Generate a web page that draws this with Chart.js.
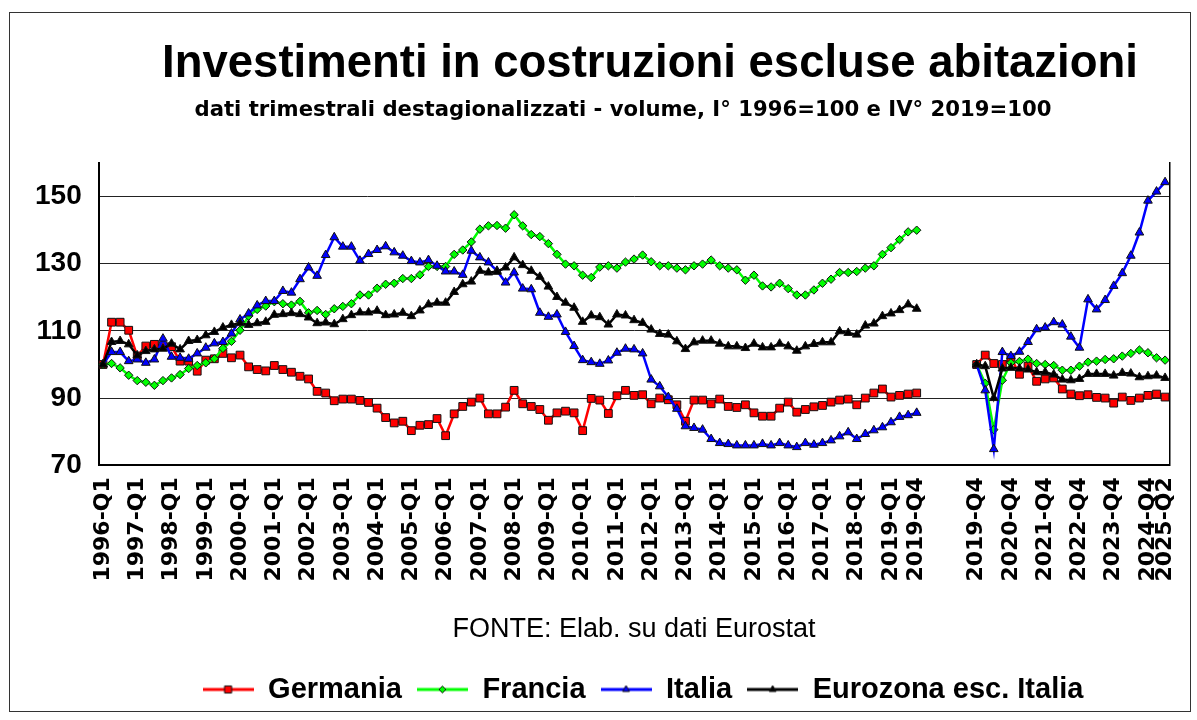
<!DOCTYPE html>
<html>
<head>
<meta charset="utf-8">
<title>Investimenti in costruzioni escluse abitazioni</title>
<script src="https://cdn.jsdelivr.net/npm/chart.js@4.4.0/dist/chart.umd.min.js"></script>
<style>
  html, body { margin: 0; padding: 0; background: #fff; overflow: hidden; }
  canvas { display: block; }
</style>
</head>
<body>
<canvas id="chart" width="1197" height="720"></canvas>
<script>
// Quarters of the first block (I° 1996 = 100)
const quarters1 = [
  '1996-Q1','1996-Q2','1996-Q3','1996-Q4','1997-Q1','1997-Q2','1997-Q3','1997-Q4',
  '1998-Q1','1998-Q2','1998-Q3','1998-Q4','1999-Q1','1999-Q2','1999-Q3','1999-Q4',
  '2000-Q1','2000-Q2','2000-Q3','2000-Q4','2001-Q1','2001-Q2','2001-Q3','2001-Q4',
  '2002-Q1','2002-Q2','2002-Q3','2002-Q4','2003-Q1','2003-Q2','2003-Q3','2003-Q4',
  '2004-Q1','2004-Q2','2004-Q3','2004-Q4','2005-Q1','2005-Q2','2005-Q3','2005-Q4',
  '2006-Q1','2006-Q2','2006-Q3','2006-Q4','2007-Q1','2007-Q2','2007-Q3','2007-Q4',
  '2008-Q1','2008-Q2','2008-Q3','2008-Q4','2009-Q1','2009-Q2','2009-Q3','2009-Q4',
  '2010-Q1','2010-Q2','2010-Q3','2010-Q4','2011-Q1','2011-Q2','2011-Q3','2011-Q4',
  '2012-Q1','2012-Q2','2012-Q3','2012-Q4','2013-Q1','2013-Q2','2013-Q3','2013-Q4',
  '2014-Q1','2014-Q2','2014-Q3','2014-Q4','2015-Q1','2015-Q2','2015-Q3','2015-Q4',
  '2016-Q1','2016-Q2','2016-Q3','2016-Q4','2017-Q1','2017-Q2','2017-Q3','2017-Q4',
  '2018-Q1','2018-Q2','2018-Q3','2018-Q4','2019-Q1','2019-Q2','2019-Q3','2019-Q4'
];
// Quarters of the second block (IV° 2019 = 100)
const quarters2 = [
  '2019-Q4','2020-Q1','2020-Q2','2020-Q3','2020-Q4','2021-Q1','2021-Q2','2021-Q3',
  '2021-Q4','2022-Q1','2022-Q2','2022-Q3','2022-Q4','2023-Q1','2023-Q2','2023-Q3',
  '2023-Q4','2024-Q1','2024-Q2','2024-Q3','2024-Q4','2025-Q1','2025-Q2'
];
// empty slots between the two blocks
const gapSlots = 6;

const germania1 = [
  100, 112.6, 112.6, 110.2, 102.5, 105.5, 106, 105.5, 105.3, 101,
  101, 98, 101.3, 101.7, 103.3, 102, 102.8, 99.3, 98.5, 98.1,
  99.7, 98.5, 97.7, 96.5, 95.7, 92, 91.5, 89.2, 89.7, 89.7,
  89.3, 88.7, 87, 84.2, 82.6, 83.1, 80.3, 81.9, 82.1, 83.9,
  78.8, 85.3, 87.5, 88.8, 90, 85.3, 85.3, 87.3, 92.3, 88.3,
  87.5, 86.6, 83.4, 85.6, 86.1, 85.6, 80.3, 89.9, 89.4, 85.4,
  90.7, 92.3, 90.8, 91, 88.3, 90, 89.5, 88, 83.1, 89.4,
  89.4, 88.3, 89.7, 87.5, 87.2, 88, 85.6, 84.6, 84.6, 87,
  88.8, 85.8, 86.6, 87.4, 87.8, 88.8, 89.4, 89.7, 88, 90,
  91.5, 92.7, 90.3, 90.8, 91.2, 91.5
];
const francia1 = [
  100, 100.3, 99, 96.8, 95.2, 94.7, 93.8, 95.2, 96, 97,
  98.8, 99.7, 100.5, 101.7, 104.8, 106.9, 110.2, 114.4, 116.4, 117.4,
  118.7, 118.1, 117.7, 118.8, 115.4, 116.1, 114.9, 116.6, 117.3, 118.1,
  120.7, 120.7, 122.7, 123.9, 124.2, 125.6, 125.6, 126.7, 129.2, 129.2,
  129.2, 132.8, 134.1, 136.5, 140.3, 141.3, 141.4, 140.6, 144.6, 141.3,
  138.7, 138.1, 136, 132.8, 129.9, 129.4, 126.6, 125.9, 129, 129.4,
  128.7, 130.5, 131.4, 132.6, 130.6, 129.4, 129.4, 128.7, 128.2, 129.4,
  129.9, 131.1, 129.4, 128.7, 128.2, 125.1, 126.6, 123.4, 123.1, 124.2,
  122.6, 120.7, 120.7, 122.2, 124.2, 125.4, 127.4, 127.4, 127.7, 128.7,
  129.4, 132.8, 134.8, 137.2, 139.5, 140
];
const italia1 = [
  100, 103.7, 103.7, 101, 101.5, 100.5, 101.5, 107.7, 102.3, 102,
  101.7, 103.3, 105, 106.3, 106.7, 109.2, 113.4, 115.2, 117.6, 118.9,
  118.9, 121.9, 121.4, 125.4, 128.9, 126.4, 132.6, 137.9, 135.1, 135.1,
  130.9, 132.9, 134.1, 135.2, 133.4, 132.4, 130.8, 130.4, 131.1, 129.4,
  127.7, 127.7, 126.7, 133.9, 131.9, 130.4, 127.9, 124.4, 127.4, 122.6,
  122.4, 115.4, 114.2, 114.9, 109.7, 105.5, 101.3, 100.7, 100.2, 101.2,
  103.5, 104.7, 104.5, 103.3, 95.5, 93.5, 90.3, 86.8, 81.6, 81.1,
  80.6, 77.8, 76.6, 76.3, 75.9, 75.9, 75.9, 76.3, 75.9, 76.6,
  75.9, 75.4, 76.6, 76.1, 76.6, 77.4, 78.6, 79.8, 77.8, 79.3,
  80.4, 81.3, 82.8, 84.4, 84.9, 85.6
];
const eurozona1 = [
  100, 106.7, 107, 106, 102.7, 104, 104.5, 104.7, 106.2, 104.5,
  107, 107.3, 108.7, 109.7, 111, 111.8, 112.3, 111.8, 112.3, 112.7,
  114.8, 115, 115.3, 115, 114, 112.3, 112.5, 112, 113.5, 114.7,
  115.5, 115.5, 116, 114.7, 114.9, 115.4, 114.4, 116.1, 117.9, 118.4,
  118.4, 121.6, 123.9, 124.7, 127.9, 127.4, 127.6, 128.9, 131.9, 129.6,
  127.9, 126.1, 123.2, 120.1, 118.4, 116.9, 112.7, 114.6, 114.1, 111.9,
  114.9, 114.6, 113.2, 112.4, 110.4, 109.1, 108.9, 106.9, 104.6, 106.6,
  107.1, 107.1, 106.2, 105.4, 105.4, 104.9, 106.2, 105.1, 105.1, 106.2,
  105.4, 104.1, 105.4, 106.1, 106.6, 106.6, 109.9, 109.4, 108.9, 111.6,
  112.2, 114.4, 115.2, 116.2, 117.9, 116.6
];

const germania2 = [100, 102.8, 100.3, 100, 102, 97.1, 99.5, 95, 95.7, 96, 92.7, 91.2, 90.7, 91, 90.2, 90, 88.5, 90.3, 89.3, 90, 90.8, 91.2, 90.3];
const francia2 = [100, 94.4, 80.6, 95.3, 100.5, 100.9, 101.6, 100.3, 100, 99.7, 98.3, 98.3, 99.5, 100.7, 101, 101.5, 101.7, 102.5, 103.3, 104.3, 103.5, 102, 101.3];
const italia2 = [100, 92.3, 74.8, 103.7, 102.5, 103.8, 106.7, 110.5, 111, 112.6, 111.9, 108.3, 105, 119.4, 116.4, 119.2, 123.4, 127.2, 132.4, 139.3, 148.8, 151.5, 154.3];
const eurozona2 = [100, 99.5, 90, 98.8, 99, 98.8, 98.5, 97.7, 97.7, 97, 95.5, 95.3, 95.7, 97.2, 97.2, 97.2, 96.7, 97.5, 97.3, 96.2, 96.5, 96.7, 96];

const seriesNames = ['Germania', 'Francia', 'Italia', 'Eurozona esc. Italia'];
const yLabels = [70, 90, 110, 130, 150];

const titleText = 'Investimenti in costruzioni escluse abitazioni';
const subtitleText = 'dati trimestrali destagionalizzati - volume, I° 1996=100 e IV° 2019=100';

const gap = new Array(gapSlots).fill(null);
const labels = [...quarters1, ...new Array(gapSlots).fill(''), ...quarters2];
const join = (a, b) => [...a, ...gap, ...b];

// small line + marker icon for the legend
function legendIcon(color, style, radius) {
  const c = document.createElement('canvas');
  c.width = 51;
  c.height = 14;
  const g = c.getContext('2d');
  g.strokeStyle = color;
  g.lineWidth = 3;
  g.beginPath();
  g.moveTo(0, 7);
  g.lineTo(51, 7);
  g.stroke();
  g.fillStyle = color;
  g.strokeStyle = '#111';
  g.lineWidth = 1;
  Chart.helpers.drawPoint(g, { pointStyle: style, radius: radius, borderWidth: 1 }, 25.5, 7);
  return c;
}

const styles = [
  { color: '#ff0000', point: 'rect', radius: 5.5, icon: 5 },
  { color: '#00ff00', point: 'rectRot', radius: 4.2, icon: 3.5 },
  { color: '#0000ff', point: 'triangle', radius: 5, icon: 4 },
  { color: '#000000', point: 'triangle', radius: 5, icon: 4 }
];
const legendIcons = styles.map(s => legendIcon(s.color, s.point, s.icon));

const seriesData = [
  join(germania1, germania2),
  join(francia1, francia2),
  join(italia1, italia2),
  join(eurozona1, eurozona2)
];

const datasets = seriesNames.map((name, i) => ({
  label: name,
  data: seriesData[i],
  borderColor: styles[i].color,
  backgroundColor: styles[i].color,
  borderWidth: 2.5,
  pointStyle: styles[i].point,
  pointRadius: styles[i].radius,
  pointBackgroundColor: styles[i].color,
  pointBorderColor: '#111',
  pointBorderWidth: 1,
  spanGaps: false,
  tension: 0,
  order: 4 - i
}));

// page frame + moving the centred boxes over the plot like the original
const framePlugin = {
  id: 'frame',
  beforeDraw(chart) {
    const ctx = chart.ctx;
    ctx.save();
    ctx.fillStyle = '#fff';
    ctx.fillRect(0, 0, chart.width, chart.height);
    ctx.strokeStyle = '#333';
    ctx.lineWidth = 1;
    ctx.strokeRect(9.5, 12.5, 1181, 699);
    ctx.restore();
  },
  afterLayout(chart) {
    const move = (box, dx) => { if (box) { box.left += dx; box.right += dx; } };
    move(chart.titleBlock, 56);
    const sub = chart.boxes.find(b => b !== chart.titleBlock && b.options && b.options.text === subtitleText);
    move(sub, 29);
    move(chart.legend, 49);
  }
};

const n1 = quarters1.length;
const n2 = quarters2.length;

new Chart(document.getElementById('chart'), {
  type: 'line',
  data: { labels: labels, datasets: datasets },
  plugins: [framePlugin],
  options: {
    responsive: false,
    animation: false,
    layout: { padding: { top: 33, left: 18, right: 27, bottom: 6 } },
    plugins: {
      tooltip: { enabled: false },
      title: {
        display: true,
        text: titleText,
        color: '#000',
        font: { family: "'Liberation Sans', Arial, sans-serif", weight: 'bold', size: 45.5 },
        padding: { top: 4, bottom: 0 }
      },
      subtitle: {
        display: true,
        text: subtitleText,
        color: '#000',
        font: { family: "'DejaVu Sans', sans-serif", weight: 'bold', size: 21.2 },
        padding: { top: 6, bottom: 40 }
      },
      legend: {
        position: 'bottom',
        labels: {
          color: '#000',
          font: { family: "'Liberation Sans', Arial, sans-serif", weight: 'bold', size: 29 },
          usePointStyle: true,
          pointStyleWidth: 51,
          padding: 15,
          generateLabels(chart) {
            return chart.data.datasets.map((ds, i) => ({
              text: ds.label,
              pointStyle: legendIcons[i],
              fontColor: '#000',
              fillStyle: styles[i].color,
              strokeStyle: styles[i].color,
              lineWidth: 0,
              datasetIndex: i
            }));
          }
        }
      }
    },
    scales: {
      x: {
        offset: true,
        grid: { display: false, drawTicks: false },
        border: { display: true, color: '#000', width: 2 },
        ticks: {
          autoSkip: false,
          minRotation: 90,
          maxRotation: 90,
          padding: 12,
          color: '#000',
          font: { family: "'DejaVu Sans', sans-serif", weight: 'bold', size: 22, lineHeight: 0.9 },
          callback: function (value, index) {
            if (index < n1) {
              return (index % 4 === 0 || index === n1 - 1) ? this.getLabelForValue(value) : '';
            }
            const j = index - n1 - gapSlots;
            if (j >= 0 && (j % 4 === 0 || j === n2 - 1)) return this.getLabelForValue(value);
            return '';
          }
        },
        title: {
          display: true,
          text: 'FONTE: Elab. su dati Eurostat',
          color: '#000',
          font: { family: "'Liberation Sans', Arial, sans-serif", size: 27 },
          padding: { top: 20, bottom: 14 }
        }
      },
      y: {
        min: 70,
        max: 160,
        grid: { color: '#222', lineWidth: 1, drawTicks: false },
        border: { color: '#000', width: 2 },
        ticks: {
          stepSize: 10,
          padding: 17,
          color: '#000',
          font: { family: "'Liberation Sans', Arial, sans-serif", weight: 'bold', size: 28 },
          callback: v => yLabels.includes(v) ? v : ''
        }
      },
      y2: {
        position: 'right',
        min: 70,
        max: 160,
        grid: { display: false, drawTicks: false },
        ticks: { display: false },
        border: { color: '#000', width: 1.5 }
      }
    }
  }
});
</script>
</body>
</html>
